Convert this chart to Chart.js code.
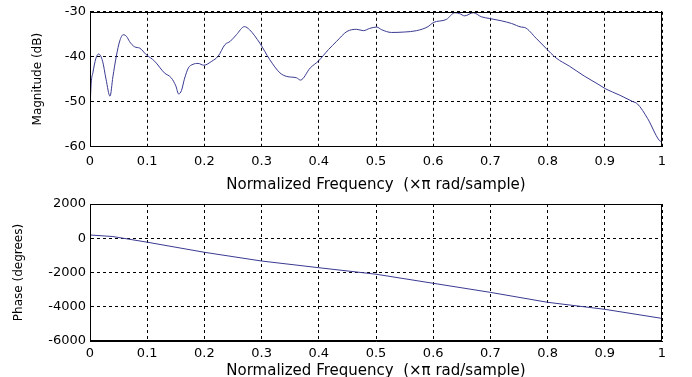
<!DOCTYPE html>
<html>
<head>
<meta charset="utf-8">
<script src="https://cdn.jsdelivr.net/npm/chart.js@4/dist/chart.umd.min.js"></script>
<style>
  html, body { margin: 0; padding: 0; background: #fff; overflow: hidden; width: 692px; height: 377px; }
  .box { position: absolute; left: 0; width: 692px; }
  canvas { display: block; }
</style>
</head>
<body>
<div class="box" id="b1" style="top:0px;height:196px;"><canvas id="c1" width="692" height="196"></canvas></div>
<div class="box" id="b2" style="top:188px;height:192px;"><canvas id="c2" width="692" height="192"></canvas></div>
<script>
// ---- data ----
const magFreq = [0, 0.002, 0.005, 0.01, 0.015, 0.022, 0.028, 0.035, 0.04, 0.046,
  0.052, 0.058, 0.064, 0.069, 0.078, 0.087, 0.098, 0.113, 0.13, 0.142,
  0.15, 0.155, 0.16, 0.165, 0.172, 0.18, 0.189, 0.199, 0.213, 0.224,
  0.236, 0.245, 0.256, 0.27, 0.279, 0.297, 0.314, 0.332, 0.344, 0.361,
  0.368, 0.385, 0.399, 0.417, 0.431, 0.449, 0.466, 0.478, 0.489, 0.501,
  0.51, 0.527, 0.55, 0.571, 0.591, 0.6, 0.623, 0.638, 0.646, 0.655,
  0.67, 0.684, 0.699, 0.719, 0.737, 0.754, 0.76, 0.78, 0.797, 0.815,
  0.838, 0.864, 0.888, 0.902, 0.925, 0.949, 0.957, 0.975, 0.995, 1.0];
const magDb = [-52, -46, -43.6, -40.5, -39.4, -41, -45, -48.8, -44.5, -39.9,
  -36.5, -35.1, -35.5, -36.6, -37.8, -38.1, -39.5, -41, -43.6, -44.7,
  -46.5, -48.3, -47.5, -45, -42.5, -41.7, -41.5, -41.9, -41, -39.9,
  -37.3, -36.6, -35.1, -33.3, -34, -37, -40.6, -43.6, -44.4, -44.7,
  -45.2, -42.5, -41, -38.4, -36.6, -34.4, -33.9, -34.2, -33.7, -33.4,
  -34, -34.6, -34.5, -34.2, -33.3, -32.4, -31.7, -30.2, -30.4, -30.9,
  -30.2, -31.1, -31.5, -32, -32.6, -33.4, -33.5, -35.9, -38.1, -40.3,
  -42.1, -44.3, -46.1, -47.2, -48.5, -50, -50.5, -53.8, -58.6, -59];
const phaseFreq = [0, 0.04, 0.1, 0.2, 0.3, 0.4, 0.5, 0.6, 0.7, 0.8, 0.9, 1.0];
const phaseDeg = [190, 100, -230, -820, -1330, -1720, -2100, -2630, -3160, -3740, -4150, -4680];

const xTickLabels = ['0', '0.1', '0.2', '0.3', '0.4', '0.5', '0.6', '0.7', '0.8', '0.9', '1'];
const magTickLabels = ['-60', '-50', '-40', '-30'];
const phaseTickLabels = ['-6000', '-4000', '-2000', '0', '2000'];

const xTitle = 'Normalized Frequency  (\u00d7\u03c0 rad/sample)';
const magTitle = 'Magnitude (dB)';
const phaseTitle = 'Phase (degrees)';

// ---- styling ----
const LINE = '#3a3a92';
const FONT = 'DejaVu Sans';

const framePlugin = {
  id: 'frame',
  afterDraw(chart) {
    const a = chart.chartArea, ctx = chart.ctx;
    ctx.save();
    ctx.strokeStyle = '#000';
    ctx.lineWidth = 1;
    ctx.setLineDash([]);
    ctx.strokeRect(Math.round(a.left) + 0.5, Math.round(a.top) + 0.5,
      Math.round(a.right - a.left) - 1, Math.round(a.bottom - a.top) - 1);
    ctx.restore();
  }
};

function makeChart(canvas, xs, ys, yMin, yMax, yStep, yLabels, yTitle, cfg) {
  const pts = xs.map((x, i) => ({ x: x, y: ys[i] }));
  return new Chart(canvas, {
    type: 'line',
    data: { datasets: [{
      data: pts, borderColor: LINE, borderWidth: 1, pointRadius: 0,
      fill: false, cubicInterpolationMode: cfg.cubic ? 'monotone' : 'default', tension: 0
    }] },
    options: {
      responsive: false, animation: false, devicePixelRatio: 1,
      layout: { padding: { left: 0, right: 30, top: cfg.padTop, bottom: 0 } },
      plugins: { legend: { display: false }, tooltip: { enabled: false } },
      scales: {
        x: {
          type: 'linear', min: 0, max: 1,
          ticks: { stepSize: 0.1, color: '#000', font: { family: FONT, size: 13 },
            padding: cfg.xTickPad, maxRotation: 0, autoSkip: false,
            callback: (v, i) => xTickLabels[i] },
          grid: { color: '#000', lineWidth: 1, drawTicks: false },
          border: { display: true, color: '#000', dash: [3, 3] },
          title: { display: true, text: xTitle, color: '#000',
            font: { family: FONT, size: 15 }, padding: { top: 0, bottom: cfg.xTitlePad } },
          afterFit: (s) => { s.height = cfg.xHeight; }
        },
        y: {
          type: 'linear', min: yMin, max: yMax,
          ticks: { stepSize: yStep, color: '#000', font: { family: FONT, size: 13 },
            padding: 4, callback: (v, i) => yLabels[i] },
          grid: { color: '#000', lineWidth: 1, drawTicks: false },
          border: { display: true, color: '#000', dash: [3, 3] },
          title: { display: true, text: yTitle, color: '#000',
            font: { family: FONT, size: 12 }, padding: { top: cfg.yTitlePad, bottom: 0 } },
          afterFit: (s) => { s.width = 90; }
        }
      }
    },
    plugins: [framePlugin]
  });
}

makeChart(document.getElementById('c1'), magFreq, magDb, -60, -30, 10, magTickLabels, magTitle,
  { cubic: true, padTop: 10, xHeight: 49.5, xTickPad: 7, xTitlePad: 2, yTitlePad: 30.8 });
makeChart(document.getElementById('c2'), phaseFreq, phaseDeg, -6000, 2000, 2000, phaseTickLabels, phaseTitle,
  { cubic: false, padTop: 16, xHeight: 39, xTickPad: 5, xTitlePad: 0, yTitlePad: 11.8 });
</script>
</body>
</html>
